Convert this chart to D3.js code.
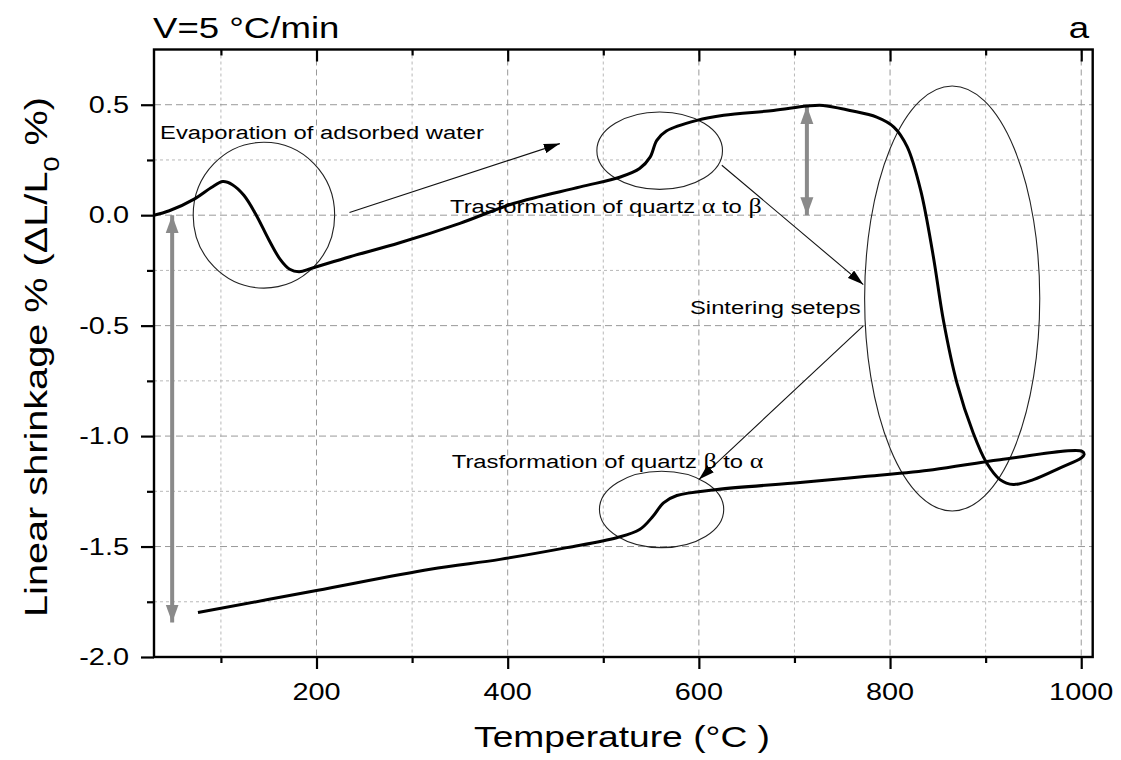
<!DOCTYPE html>
<html>
<head>
<meta charset="utf-8">
<script src="https://cdn.jsdelivr.net/npm/d3@7"></script>
<style>
  html, body { margin: 0; padding: 0; background: #fff; }
  svg { display: block; font-family: "Liberation Sans", Arial, sans-serif; }
</style>
</head>
<body>
<svg id="chart" width="1121" height="760"></svg>
<script>
// ---------------- data ----------------
// dilatometric curve, heating then cooling, in drawing order
const temperature = [30, 46, 73, 90, 102, 112, 124, 137, 150, 162, 172, 182, 195, 235, 287, 350, 406, 476, 518, 538, 549, 556, 566, 598, 626, 678, 713, 730, 758, 786, 804, 818, 832, 845, 856, 870, 887, 901, 915, 929, 950, 978, 1000, 1003, 1001,
                     915, 845, 776, 706, 619, 577, 563, 552, 538, 514, 462, 392, 319, 200, 76];
const shrinkage   = [0.0, 0.02, 0.075, 0.125, 0.152, 0.138, 0.09, 0.0, -0.11, -0.2, -0.245, -0.256, -0.24, -0.188, -0.125, -0.037, 0.053, 0.128, 0.173, 0.211, 0.263, 0.339, 0.381, 0.429, 0.452, 0.474, 0.494, 0.497, 0.474, 0.444, 0.399, 0.309, 0.113, -0.18, -0.48, -0.76, -0.986, -1.121, -1.197, -1.219, -1.197, -1.144, -1.099, -1.084, -1.069,
                     -1.107, -1.152, -1.182, -1.21, -1.242, -1.269, -1.302, -1.363, -1.423, -1.46, -1.505, -1.558, -1.603, -1.699, -1.799];

const xMajorTicks = [200, 400, 600, 800, 1000];
const xMinorTicks = [100, 300, 500, 700, 900];
const yMajorTicks = [-2.0, -1.5, -1.0, -0.5, 0.0, 0.5];
const yMinorTicks = [-1.75, -1.25, -0.75, -0.25, 0.25];

const titleText = "V=5 °C/min";
const panelText = "a";
const xLabel = "Temperature (°C )";

// annotations (data coordinates)
const ellipseCenterT = [145, 559, 865, 561];
const ellipseCenterV = [0.0, 0.292, -0.377, -1.332];
const ellipseRadiusT = [74, 65.7, 91.6, 65];
const ellipseRadiusV = [0.33, 0.175, 0.962, 0.173];

const arrowFromT = [234.5, 624, 772];
const arrowFromV = [0.012, 0.226, -0.501];
const arrowToT   = [454.6, 772, 600];
const arrowToV   = [0.324, -0.314, -1.197];

const grayArrowT   = [49, 713];
const grayArrowTop = [0.0, 0.494];
const grayArrowBot = [-1.844, 0.0];

const noteText = ["Evaporation of adsorbed water", "Trasformation of quartz ", "Sintering seteps", "Trasformation of quartz "];
const noteGreek = [null, ["α", " to ", "β"], null, ["β", " to ", "α"]];
const noteT = [36.3, 339.7, 590.7, 341.5];
const noteV = [0.345, 0.009, -0.449, -1.146];

// ---------------- layout ----------------
const svg = d3.select("#chart");
const L = 154, R = 1092.7, T = 49.5, B = 657;
const SX = 1.24; // glyphs are horizontally wide in the reference

const x = d3.scaleLinear().domain([30, 1012]).range([L, R]);
const y = d3.scaleLinear().domain([-2, 0.75]).range([B, T]);

function wideText(g, px, py, str, size, anchor, rot) {
  const t = g.append("text")
    .attr("transform", `translate(${px},${py})` + (rot ? ` rotate(${rot})` : "") + ` scale(${SX},1)`)
    .attr("font-size", size)
    .attr("text-anchor", anchor || "start")
    .attr("fill", "#000");
  if (str !== null) t.text(str);
  return t;
}

// grid
const grid = svg.append("g");
grid.selectAll(".vmin").data(xMinorTicks).join("line")
  .attr("x1", d => x(d)).attr("x2", d => x(d)).attr("y1", T).attr("y2", B)
  .attr("stroke", "#b8b8b8").attr("stroke-width", 1).attr("stroke-dasharray", "3,3");
grid.selectAll(".vmaj").data(xMajorTicks).join("line")
  .attr("x1", d => x(d)).attr("x2", d => x(d)).attr("y1", T).attr("y2", B)
  .attr("stroke", "#999").attr("stroke-width", 1).attr("stroke-dasharray", "6,4");
grid.selectAll(".hmin").data(yMinorTicks).join("line")
  .attr("x1", L).attr("x2", R).attr("y1", d => y(d)).attr("y2", d => y(d))
  .attr("stroke", "#b8b8b8").attr("stroke-width", 1).attr("stroke-dasharray", "3,3");
grid.selectAll(".hmaj").data(yMajorTicks.filter(d => d > -2)).join("line")
  .attr("x1", L).attr("x2", R).attr("y1", d => y(d)).attr("y2", d => y(d))
  .attr("stroke", "#999").attr("stroke-width", 1).attr("stroke-dasharray", "7,4");

// axes
function styleAxis(g) {
  g.select(".domain").remove();
  g.selectAll("line").attr("stroke", "#000").attr("stroke-width", 2.2);
  g.selectAll("text").remove();
}
svg.append("g").attr("transform", `translate(0,${B})`)
  .call(d3.axisBottom(x).tickValues(xMajorTicks).tickSize(12).tickFormat("")).call(styleAxis);
svg.append("g").attr("transform", `translate(0,${B})`)
  .call(d3.axisBottom(x).tickValues(xMinorTicks).tickSize(6).tickFormat("")).call(styleAxis);
svg.append("g").attr("transform", `translate(0,${T})`)
  .call(d3.axisTop(x).tickValues(xMajorTicks).tickSize(-12).tickFormat("")).call(styleAxis);
svg.append("g").attr("transform", `translate(0,${T})`)
  .call(d3.axisTop(x).tickValues(xMinorTicks).tickSize(-6).tickFormat("")).call(styleAxis);
svg.append("g").attr("transform", `translate(${L},0)`)
  .call(d3.axisLeft(y).tickValues(yMajorTicks).tickSize(13).tickFormat("")).call(styleAxis);
svg.append("g").attr("transform", `translate(${L},0)`)
  .call(d3.axisLeft(y).tickValues(yMinorTicks).tickSize(7).tickFormat("")).call(styleAxis);

// frame
svg.append("rect").attr("x", L).attr("y", T).attr("width", R - L).attr("height", B - T)
  .attr("fill", "none").attr("stroke", "#000").attr("stroke-width", 2.4);

// tick labels
const labels = svg.append("g");
xMajorTicks.forEach(d => wideText(labels, x(d), 700, String(d), 23.3, "middle"));
yMajorTicks.forEach(d => wideText(labels, 129, y(d) + 8.3, d3.format(".1f")(d).replace("−", "-"), 23.3, "end"));

// axis titles
wideText(svg, 622, 747, xLabel, 30, "middle");
const yl = wideText(svg, 47, 357, null, 32, "middle", -90);
yl.append("tspan").text("Linear shrinkage % (ΔL/L");
yl.append("tspan").attr("baseline-shift", "sub").attr("font-size", "68%").text("0");
yl.append("tspan").text(" %)");

wideText(svg, 153, 38, titleText, 29.5, "start");
wideText(svg, 1089, 38, panelText, 29.5, "end");

// markers
const defs = svg.append("defs");
defs.append("marker").attr("id", "blackHead")
  .attr("viewBox", "0 -5 16 10").attr("refX", 16).attr("refY", 0)
  .attr("markerWidth", 16).attr("markerHeight", 10).attr("markerUnits", "userSpaceOnUse")
  .attr("orient", "auto")
  .append("path").attr("d", "M0,-4.8L16,0L0,4.8Z").attr("fill", "#000");
defs.append("marker").attr("id", "grayHead")
  .attr("viewBox", "0 -7 18 14").attr("refX", 18).attr("refY", 0)
  .attr("markerWidth", 18).attr("markerHeight", 14).attr("markerUnits", "userSpaceOnUse")
  .attr("orient", "auto-start-reverse")
  .append("path").attr("d", "M0,-6.5L18,0L0,6.5Z").attr("fill", "#8a8a8a");

// ellipses
const ann = svg.append("g");
ann.selectAll("ellipse").data(ellipseCenterT).join("ellipse")
  .attr("cx", (d, i) => x(d))
  .attr("cy", (d, i) => y(ellipseCenterV[i]))
  .attr("rx", (d, i) => x(d + ellipseRadiusT[i]) - x(d))
  .attr("ry", (d, i) => y(0) - y(ellipseRadiusV[i]))
  .attr("fill", "none").attr("stroke", "#222").attr("stroke-width", 1.1);

// thin arrows
ann.selectAll(".thin").data(arrowFromT).join("line")
  .attr("x1", d => x(d)).attr("y1", (d, i) => y(arrowFromV[i]))
  .attr("x2", (d, i) => x(arrowToT[i])).attr("y2", (d, i) => y(arrowToV[i]))
  .attr("stroke", "#111").attr("stroke-width", 1.1).attr("marker-end", "url(#blackHead)");

// gray double arrows
ann.selectAll(".gray").data(grayArrowT).join("line")
  .attr("x1", d => x(d)).attr("x2", d => x(d))
  .attr("y1", (d, i) => y(grayArrowTop[i])).attr("y2", (d, i) => y(grayArrowBot[i]))
  .attr("stroke", "#8a8a8a").attr("stroke-width", 4)
  .attr("marker-start", "url(#grayHead)").attr("marker-end", "url(#grayHead)");

// curve
const pts = temperature.map((t, i) => [t, shrinkage[i]]);
svg.append("path").datum(pts)
  .attr("d", d3.line().x(d => x(d[0])).y(d => y(d[1])).curve(d3.curveCatmullRom.alpha(0.5)))
  .attr("fill", "none").attr("stroke", "#000").attr("stroke-width", 3).attr("stroke-linejoin", "round");

// notes
noteText.forEach((s, i) => {
  const t = wideText(svg, x(noteT[i]), y(noteV[i]), null, 19.2, "start");
  t.append("tspan").text(s);
  if (noteGreek[i]) {
    t.append("tspan").attr("font-family", "Liberation Serif, serif").attr("font-size", 21).text(noteGreek[i][0]);
    t.append("tspan").text(noteGreek[i][1]);
    t.append("tspan").attr("font-family", "Liberation Serif, serif").attr("font-size", 21).text(noteGreek[i][2]);
  }
});
</script>
</body>
</html>
